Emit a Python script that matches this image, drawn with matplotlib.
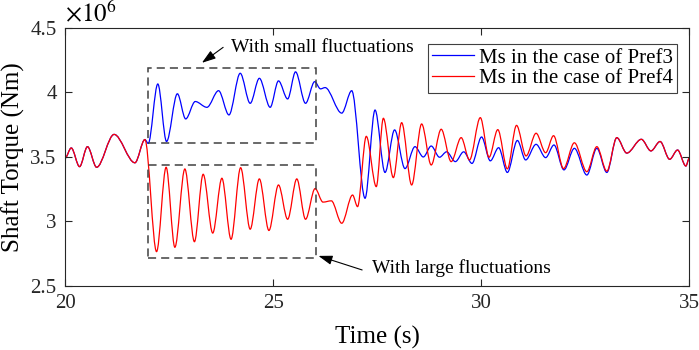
import matplotlib
matplotlib.use('Agg')
import matplotlib.pyplot as plt
from matplotlib.path import Path
from matplotlib.patches import PathPatch, Rectangle
from matplotlib.lines import Line2D

plt.rcParams['font.family'] = ['Liberation Serif', 'DejaVu Serif']
plt.rcParams['mathtext.fontset'] = 'stix'

# peaks / troughs, time in s, torque in 1e6 Nm
# before 22 s both cases lie on the same curve
t_common = [20.0, 20.15, 20.35, 20.54, 20.76, 21.18, 21.68, 21.92]
ms_common = [3.49, 3.57, 3.425, 3.58, 3.42, 3.675, 3.455, 3.635]

t_pref3 = [22.0, 22.23, 22.44, 22.70, 22.90, 23.13, 23.41, 23.69, 23.94, 24.21,
           24.45, 24.67, 24.93, 25.13, 25.35, 25.54, 25.78, 26.00, 26.14, 26.25,
           26.65, 26.89, 27.21, 27.45, 27.69, 27.92, 28.17, 28.41, 28.61, 28.80,
           29.00, 29.17, 29.38, 29.58, 29.78, 30.01, 30.22, 30.42, 30.63, 30.87,
           31.07, 31.32, 31.55, 31.75, 31.99, 32.24, 32.54, 32.78, 33.02]
ms_pref3 = [3.605, 4.066, 3.62, 3.99, 3.795, 3.93, 3.885, 4.014, 3.826, 4.149,
            3.916, 4.11, 3.885, 4.09, 3.95, 4.16, 3.916, 4.084, 4.028, 4.038,
            3.84, 4.014, 3.18, 3.864, 3.38, 3.71, 3.41, 3.58, 3.50, 3.585,
            3.498, 3.54, 3.464, 3.54, 3.45, 3.655, 3.47, 3.572, 3.38, 3.628,
            3.477, 3.598, 3.495, 3.593, 3.40, 3.567, 3.36, 3.567, 3.38]

t_pref4 = [22.2, 22.43, 22.64, 22.88, 23.11, 23.32, 23.55, 23.77, 23.99, 24.22,
           24.45, 24.67, 24.90, 25.13, 25.35, 25.57, 25.78, 26.01, 26.20, 26.40,
           26.65, 26.91, 27.03, 27.24, 27.48, 27.65, 27.89, 28.09, 28.33, 28.57,
           28.80, 29.04, 29.28, 29.52, 29.72, 29.98, 30.19, 30.40, 30.63, 30.85,
           31.08, 31.32, 31.55, 31.74, 31.98, 32.24, 32.54, 32.78, 33.02]
ms_pref4 = [2.766, 3.42, 2.80, 3.407, 2.843, 3.366, 2.91, 3.335, 2.862, 3.417,
            2.94, 3.33, 2.93, 3.283, 3.017, 3.33, 3.017, 3.255, 3.15, 3.16,
            2.986, 3.205, 3.115, 3.66, 3.27, 3.80, 3.34, 3.766, 3.283, 3.756,
            3.438, 3.715, 3.464, 3.65, 3.477, 3.805, 3.498, 3.712, 3.408, 3.745,
            3.508, 3.684, 3.533, 3.665, 3.41, 3.61, 3.386, 3.58, 3.39]

# after ~33.2 s the two cases coincide again
t_tail = [33.26, 33.50, 33.85, 34.08, 34.30, 34.53, 34.72, 34.92, 35.0]
ms_tail = [3.65, 3.53, 3.637, 3.547, 3.62, 3.482, 3.554, 3.43, 3.49]

labels = ['Ms in the case of Pref3', 'Ms in the case of Pref4']
colors = ['#0000ff', '#ff0000']


def smooth_path(ts, vs):
    # bezier through the extrema, flat tangent at each one
    verts = [(ts[0], vs[0])]
    codes = [Path.MOVETO]
    for i in range(1, len(ts)):
        dt = (ts[i] - ts[i - 1]) / 3
        verts += [(ts[i - 1] + dt, vs[i - 1]), (ts[i] - dt, vs[i]), (ts[i], vs[i])]
        codes += [Path.CURVE4] * 3
    return Path(verts, codes)


fig = plt.figure(figsize=(6.99, 3.5), dpi=100)
ax = fig.add_axes([0.093, 0.183, 0.893, 0.737])

series = [(t_pref3, ms_pref3), (t_pref4, ms_pref4)]
for (ts, vs), c in zip(series, colors):
    tt = t_common + ts + t_tail
    vv = ms_common + vs + ms_tail
    ax.add_patch(PathPatch(smooth_path(tt, vv), facecolor='none', edgecolor=c, lw=0.9))

# dashed boxes
box_kw = dict(fill=False, edgecolor='#404040', lw=1.1, linestyle=(0, (5.3, 3.3)))
ax.add_patch(Rectangle((22.0, 3.605), 4.03, 0.585, **box_kw))
ax.add_patch(Rectangle((22.0, 2.715), 4.03, 0.72, **box_kw))

# annotations
arr = dict(arrowstyle='-|>,head_length=0.6,head_width=0.2', color='k', lw=0.8,
           mutation_scale=14, shrinkA=0, shrinkB=0)
ax.annotate('', xy=(23.29, 4.23), xytext=(23.80, 4.35), arrowprops=arr)
ax.text(24.0, 4.345, 'With small fluctuations', va='center', ha='left', fontsize=14)
ax.annotate('', xy=(26.09, 2.733), xytext=(27.14, 2.624), arrowprops=arr)
ax.text(27.38, 2.64, 'With large fluctuations', va='center', ha='left', fontsize=14)

ax.set_xlim(20, 35)
ax.set_ylim(2.5, 4.5)
ax.set_xticks([20, 25, 30, 35])
ax.set_yticks([2.5, 3, 3.5, 4, 4.5])
ax.set_yticklabels(['2.5', '3', '3.5', '4', '4.5'])
ax.tick_params(direction='in', length=5, width=0.8, top=True, right=True,
               labelsize=15, colors='#262626', pad=6)
for s in ax.spines.values():
    s.set_color('#262626')
    s.set_linewidth(0.8)

ax.set_xlabel('Time (s)', fontsize=18, labelpad=9)
ax.set_ylabel('Shaft Torque (Nm)', fontsize=18, labelpad=4)
ax.text(0.0, 1.005, r'$\times10^{6}$', transform=ax.transAxes, fontsize=18,
        ha='left', va='bottom')

handles = [Line2D([], [], color=c, lw=0.9) for c in colors]
leg = ax.legend(handles, labels, loc='upper right', bbox_to_anchor=(0.981, 0.938),
                borderaxespad=0, fontsize=15, fancybox=False, framealpha=1,
                edgecolor='#404040', handlelength=2.0, handletextpad=0.25,
                labelspacing=0.05, borderpad=0.2)
leg.get_frame().set_linewidth(0.8)

fig.savefig('out.png', dpi=100)
